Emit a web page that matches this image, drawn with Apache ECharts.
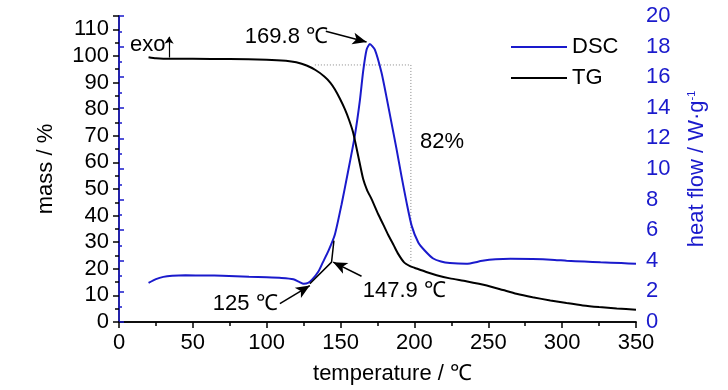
<!DOCTYPE html>
<html><head><meta charset="utf-8">
<script src="https://cdn.jsdelivr.net/npm/echarts@6/dist/echarts.min.js"></script>
<style>html,body{margin:0;padding:0;background:#fff}#c{width:728px;height:390px}</style>
</head><body><div id="c"></div>
<script>
// ---- data ----
const tgTemp = [20,25,35,50,75,100,113,120,127,133,139,143,146.1,149.5,152.9,155.7,158.5,161.9,165.3,168,171,175.5,179,182.2,186,189,193,197,200,208,215,224,235,249,260,269,280,292,303,314,325,337,350];
const tgMass = [99.5,99.1,98.9,98.9,98.8,98.6,98.2,97.6,96.4,94.7,92.3,90.0,87.5,84.0,80.0,76.0,71.2,62.5,53.7,49.5,46.2,40.5,36.5,32.8,28.8,25.6,22.4,21.0,20.4,18.8,17.6,16.4,15.3,13.7,12.0,10.6,9.3,8.1,7.1,6.2,5.6,5.1,4.6];
const dscTemp = [20,25,30,36,45,59,70,88,100,110,118,122,125,128,131,135,138,142,146.1,150.7,155.2,159.7,163.1,165.3,167.6,169.8,173.2,177.7,181.1,184.5,187.9,191.3,194.7,198.1,202.6,207.1,212.7,218,224,235,246,255,265,280,295,303,315,326,340,350];
const dscHeat = [2.55,2.8,2.95,3.02,3.05,3.04,3.02,2.95,2.92,2.88,2.8,2.62,2.5,2.55,2.8,3.3,3.9,4.7,5.7,7.7,9.9,12.2,14.5,16.4,17.8,18.17,17.8,16.3,14.7,13.0,11.3,9.5,7.8,6.3,5.2,4.66,4.15,3.95,3.85,3.8,4.0,4.1,4.13,4.12,4.06,4.0,3.95,3.9,3.85,3.8];
const xTickLabels = [0,50,100,150,200,250,300,350];
const massTickLabels = [0,10,20,30,40,50,60,70,80,90,100,110];
const heatTickLabels = [0,2,4,6,8,10,12,14,16,18,20];
// annotation texts (data coords: temperature, mass)
const noteTexts = ['exo','169.8 ℃','82%','125 ℃','147.9 ℃'];
const noteX = [7.4, 85.2, 203.8, 63.5, 165];
const noteY = [104, 107, 67.6, 6.9, 11.7];
// arrows (from -> to, in temperature / mass coords)
const arrowFromT = [140, 108.9, 164.2, 33.9];
const arrowFromM = [109.3, 6.9, 17.2, 99.4];
const arrowToT = [167.6, 129.2, 145.0, 33.9];
const arrowToM = [105.2, 13.7, 22.5, 107.2];
// dotted 82% bracket and onset tangent construction
const boxT = [132.6, 197.6, 197.6];
const boxM = [96.6, 96.6, 22.6];
const tanT = [129.2, 143.9, 145.5];
const tanM = [14.4, 22.5, 30.6];

const FONT = "'Liberation Sans Narrow','Arial Narrow','Liberation Sans',Arial,sans-serif";
const BLUE = '#1a1acc';
const zip = (a, b) => a.map((v, i) => [v, b[i]]);

const chart = echarts.init(document.getElementById('c'), null, {renderer: 'canvas'});
chart.setOption({
  animation: false,
  backgroundColor: '#fff',
  grid: {left: 119, right: 92, top: 16, bottom: 67, containLabel: false},
  legend: {
    data: ['DSC', 'TG'], orient: 'vertical', left: 511, top: 36, padding: 0,
    icon: 'rect', itemWidth: 56, itemHeight: 2, itemGap: 9,
    textStyle: {fontSize: 22, fontFamily: FONT, color: '#000', padding: [0, 0, 0, 0]}
  },
  xAxis: [{
    type: 'value', min: xTickLabels[0], max: xTickLabels[xTickLabels.length - 1], interval: 50,
    name: 'temperature / ℃', nameLocation: 'middle', nameGap: 41,
    nameTextStyle: {fontSize: 22, fontFamily: FONT, color: '#000', padding: [0, 0, 0, 30]},
    axisLine: {show: true, lineStyle: {color: '#000', width: 1.5}},
    axisTick: {show: true, length: 6, lineStyle: {color: '#000', width: 1.5}},
    minorTick: {show: true, splitNumber: 2, length: 4, lineStyle: {color: '#000', width: 1.5}},
    axisLabel: {fontSize: 22, fontFamily: FONT, color: '#000', margin: 10},
    splitLine: {show: false}
  }, {
    type: 'value', position: 'top', min: 0, max: 350,
    axisLine: {show: true, lineStyle: {color: '#000', width: 1.5}},
    axisTick: {show: false}, axisLabel: {show: false}, splitLine: {show: false}
  }],
  yAxis: [{
    type: 'value', position: 'left', min: 0, max: 115, interval: 10,
    name: 'mass / %', nameLocation: 'middle', nameGap: 62, nameRotate: 90,
    nameTextStyle: {fontSize: 22, fontFamily: FONT, color: '#000'},
    axisLine: {show: true, lineStyle: {color: '#000', width: 1.5}},
    axisTick: {show: true, length: 6, lineStyle: {color: '#000', width: 1.5}},
    minorTick: {show: true, splitNumber: 2, length: 4, lineStyle: {color: '#000', width: 1.5}},
    axisLabel: {fontSize: 22, fontFamily: FONT, color: '#000', margin: 10, showMaxLabel: false,
      formatter: v => massTickLabels.indexOf(v) >= 0 ? String(v) : ''},
    splitLine: {show: false}
  }, {
    type: 'value', position: 'right', min: 0, max: 20, interval: 2,
    name: 'heat flow / W·g{sup|-1}', nameLocation: 'middle', nameGap: 50, nameRotate: 90,
    nameTextStyle: {fontSize: 22, fontFamily: FONT, color: BLUE,
      rich: {sup: {fontSize: 11, fontFamily: FONT, color: BLUE, verticalAlign: 'top', padding: [0, 0, 10, 0]}}},
    axisLine: {show: true, lineStyle: {color: BLUE, width: 1.5}},
    axisTick: {show: true, length: 5, lineStyle: {color: BLUE, width: 1.5}},
    minorTick: {show: true, splitNumber: 2, length: 3, lineStyle: {color: BLUE, width: 1.5}},
    axisLabel: {fontSize: 22, fontFamily: FONT, color: BLUE, margin: 10,
      formatter: v => heatTickLabels.indexOf(v) >= 0 ? String(v) : ''},
    splitLine: {show: false}
  }],
  series: [{
    name: 'DSC', type: 'line', xAxisIndex: 0, yAxisIndex: 1, data: zip(dscTemp, dscHeat),
    smooth: 0.2, symbol: 'none', lineStyle: {color: BLUE, width: 2}, itemStyle: {color: BLUE}, z: 3
  }, {
    name: 'TG', type: 'line', xAxisIndex: 0, yAxisIndex: 0, data: zip(tgTemp, tgMass),
    smooth: 0.2, symbol: 'none', lineStyle: {color: '#000', width: 2}, itemStyle: {color: '#000'}, z: 4,
    markPoint: {
      symbol: 'circle', symbolSize: 0, silent: true,
      label: {show: true, position: 'right', distance: 0, formatter: '{b}', fontSize: 22, fontFamily: FONT, color: '#000'},
      data: noteTexts.map((t, i) => ({name: t, coord: [noteX[i], noteY[i]], value: 0}))
    },
    markLine: {
      silent: true, symbol: ['none', 'arrow'], symbolSize: [9, 14], label: {show: false},
      lineStyle: {color: '#000', width: 1.5, type: 'solid'},
      data: arrowFromT.map((t, i) => [{coord: [t, arrowFromM[i]]},
        {coord: [arrowToT[i], arrowToM[i]], symbolSize: i === 3 ? [7, 7] : [9, 14], lineStyle: {width: i === 3 ? 1.2 : 1.5}}])
    }
  }, {
    name: 'bracket', type: 'line', xAxisIndex: 0, yAxisIndex: 0, data: zip(boxT, boxM),
    symbol: 'none', silent: true, lineStyle: {color: '#888', width: 1, type: [1, 2]}, z: 2
  }, {
    name: 'tangent', type: 'line', xAxisIndex: 0, yAxisIndex: 0, data: zip(tanT, tanM),
    symbol: 'none', silent: true, lineStyle: {color: '#000', width: 1.5}, z: 5
  }]
});
</script>
</body></html>
